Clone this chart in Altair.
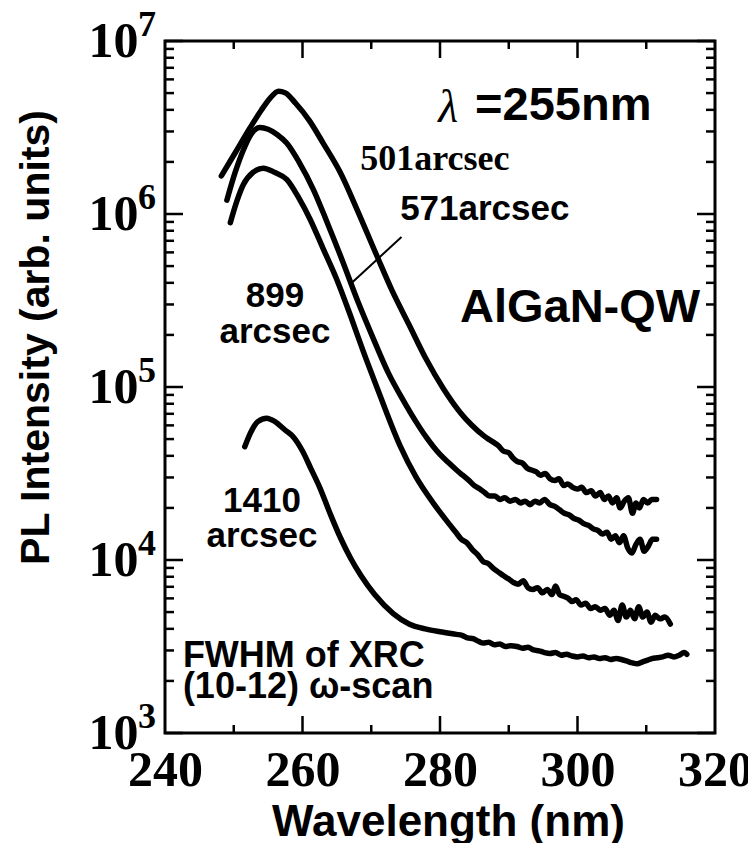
import altair as alt
import pandas as pd

# ---------------- data ----------------
# wavelength (nm) and log10(PL intensity, arb. units)
wl_501 = [248.2, 250.3, 252.4, 254.0, 255.3, 256.5, 257.5, 259.0, 261.0, 263.0, 265.5, 268.0,
          270.8, 273.0, 275.5, 278.0, 280.5, 283.0, 284.6,
          286.3, 287.0, 287.8, 288.5, 289.2, 290.0, 290.6, 291.2, 292.0, 292.7, 293.3, 294.0,
          294.6, 295.3, 296.0, 296.7, 297.3, 298.0, 298.6, 299.3, 300.0, 300.6, 301.3, 302.0,
          302.6, 303.3, 303.9, 304.5, 305.1, 305.7, 306.2, 306.8, 307.4, 308.0, 308.5, 309.0,
          309.6, 310.2, 310.8, 311.5]
lg_501 = [6.22, 6.36, 6.50, 6.60, 6.67, 6.71, 6.70, 6.64, 6.54, 6.41, 6.24, 6.02,
          5.76, 5.56, 5.36, 5.16, 4.99, 4.85, 4.78,
          4.72, 4.70, 4.68, 4.66, 4.63, 4.62, 4.59, 4.57, 4.56, 4.53, 4.52, 4.51,
          4.49, 4.50, 4.47, 4.46, 4.47, 4.43, 4.44, 4.42, 4.41, 4.42, 4.39, 4.40,
          4.37, 4.39, 4.35, 4.37, 4.33, 4.36, 4.30, 4.34, 4.36, 4.27, 4.33, 4.30,
          4.35, 4.33, 4.35, 4.35]

wl_571 = [249.0, 250.2, 251.4, 252.5, 253.8, 255.0, 256.3, 257.7, 259.5, 261.6, 263.5, 265.9,
          268.0, 270.3, 272.5, 274.7, 276.5, 278.0, 280.0, 281.3,
          282.4, 283.3, 284.2, 285.0, 285.8, 286.5, 287.2, 288.0, 288.7, 289.4, 290.2, 291.0,
          291.7, 292.4, 293.1, 293.8, 294.5, 295.2, 296.0, 296.7, 297.4, 298.1, 298.8, 299.5,
          300.2, 300.9, 301.6, 302.3, 303.0, 303.6, 304.3, 304.9, 305.5, 306.1, 306.7, 307.3,
          307.9, 308.5, 309.1, 309.7, 310.3, 310.9, 311.5]
lg_571 = [6.08, 6.24, 6.37, 6.46, 6.50, 6.49, 6.46, 6.41, 6.30, 6.14, 5.96, 5.72,
          5.50, 5.28, 5.08, 4.92, 4.80, 4.71, 4.61, 4.56,
          4.52, 4.49, 4.46, 4.43, 4.41, 4.39, 4.37, 4.37, 4.35, 4.36, 4.34, 4.35,
          4.33, 4.34, 4.32, 4.34, 4.33, 4.35, 4.32, 4.31, 4.29, 4.27, 4.26, 4.24,
          4.23, 4.21, 4.20, 4.18, 4.17, 4.15, 4.16, 4.12, 4.14, 4.10, 4.14, 4.07,
          4.04, 4.09, 4.12, 4.05, 4.08, 4.12, 4.12]

wl_899 = [249.5, 250.5, 251.4, 252.8, 254.3, 256.0, 257.7, 259.5, 261.1, 263.0, 265.0, 267.0,
          268.8, 271.0, 274.2, 276.5, 279.0,
          281.5, 282.3, 283.1, 283.9, 284.7, 285.5, 286.3, 287.0, 287.8, 288.5, 289.2, 290.0,
          290.7, 291.4, 292.1, 292.8, 293.5, 294.2, 294.9, 295.6, 296.3, 296.8, 297.4, 298.0,
          298.6, 299.2, 299.8, 300.5, 301.2, 301.9, 302.6, 303.3, 304.0, 304.7, 305.3, 305.9,
          306.5, 307.1, 307.7, 308.3, 308.9, 309.5, 310.1, 310.7, 311.3, 312.0, 312.7, 313.5]
lg_899 = [5.95, 6.08, 6.17, 6.24, 6.265, 6.24, 6.20, 6.09, 5.97, 5.80, 5.62, 5.41,
          5.21, 4.98, 4.66, 4.48, 4.33,
          4.20, 4.16, 4.12, 4.10, 4.06, 4.03, 3.99, 3.98, 3.95, 3.93, 3.91, 3.89,
          3.87, 3.86, 3.88, 3.84, 3.83, 3.84, 3.81, 3.83, 3.80, 3.85, 3.80, 3.79,
          3.78, 3.76, 3.77, 3.74, 3.75, 3.72, 3.73, 3.71, 3.72, 3.68, 3.71, 3.65,
          3.74, 3.67, 3.71, 3.66, 3.73, 3.67, 3.70, 3.64, 3.68, 3.66, 3.67, 3.63]

wl_1410 = [251.6, 252.5, 253.5, 254.8, 256.0, 257.5, 258.7, 260.0, 261.2, 262.5, 264.0, 265.5,
           267.0, 268.5, 270.5, 273.2, 275.5, 278.0, 280.0,
           282.4, 283.2, 284.0, 284.8, 285.6, 286.3, 287.1, 287.9, 288.7, 289.5, 290.3, 291.2,
           292.0, 292.8, 293.6, 294.4, 295.2, 296.0, 296.8, 297.6, 298.4, 299.2, 300.0, 300.8,
           301.6, 302.4, 303.2, 304.0, 304.8, 305.6, 306.4, 307.2, 308.0, 308.7, 309.4, 310.1,
           310.8, 311.6, 312.4, 313.2, 314.0, 314.8, 315.5, 315.9]
lg_1410 = [4.655, 4.74, 4.80, 4.82, 4.80, 4.75, 4.71, 4.63, 4.53, 4.42, 4.27, 4.13,
           4.01, 3.91, 3.80, 3.69, 3.63, 3.60, 3.585,
           3.57, 3.565, 3.55, 3.545, 3.53, 3.52, 3.525, 3.51, 3.515, 3.50, 3.505, 3.50,
           3.49, 3.495, 3.48, 3.475, 3.465, 3.46, 3.465, 3.45, 3.455, 3.445, 3.44, 3.445,
           3.435, 3.44, 3.43, 3.435, 3.425, 3.43, 3.425, 3.415, 3.405, 3.40, 3.41, 3.42,
           3.43, 3.435, 3.44, 3.45, 3.44, 3.45, 3.465, 3.455]

series_names = ["501arcsec", "571arcsec", "899arcsec", "1410arcsec"]
x_ticks = [240, 260, 280, 300, 320]
x_minor = [250, 270, 290, 310]
y_decades = [1e3, 1e4, 1e5, 1e6, 1e7]
y_exponents = ["3", "4", "5", "6", "7"]
y_minor = [m * d for d in [1e3, 1e4, 1e5, 1e6] for m in range(2, 10)]

# annotation texts: (text, wavelength, log10 intensity)
ann_lambda = [("λ", 281.2, 6.532)]
ann_big = [("=255nm", 285.1, 6.543), ("AlGaN-QW", 282.9, 5.376)]
ann_serif = [("501arcsec", 268.4, 6.254)]
ann_left = [("571arcsec", 274.2, 5.965)]
ann_note = [("FWHM of XRC", 242.6, 3.382), ("(10-12) ω-scan", 242.6, 3.202)]
ann_center = [("899", 256.0, 5.462), ("arcsec", 256.0, 5.254),
              ("1410", 254.1, 4.277), ("arcsec", 254.1, 4.075)]
leader = [(267.1, 5.60, 274.4, 5.867)]

# ---------------- build tables ----------------
frames = []
for name, w, l in zip(series_names, [wl_501, wl_571, wl_899, wl_1410],
                      [lg_501, lg_571, lg_899, lg_1410]):
    frames.append(pd.DataFrame({"wl": w, "I": [10 ** v for v in l], "s": name}))
curves = pd.concat(frames, ignore_index=True)

# plot geometry (px per unit) for inward tick lengths
PX_PER_NM = 550 / 80.0
PX_PER_DEC = 692 / 4.0
maj_nm, min_nm = 18 / PX_PER_NM, 9 / PX_PER_NM
maj_f, min_f = 10 ** (17 / PX_PER_DEC), 10 ** (8 / PX_PER_DEC)

yt = []
for v in y_decades:
    yt += [dict(wl=240, wl2=240 + maj_nm, I=v), dict(wl=320, wl2=320 - maj_nm, I=v)]
for v in y_minor:
    yt += [dict(wl=240, wl2=240 + min_nm, I=v), dict(wl=320, wl2=320 - min_nm, I=v)]
yticks = pd.DataFrame(yt)

xt = []
for v in x_ticks[1:-1]:
    xt += [dict(wl=v, I=1e3, I2=1e3 * maj_f), dict(wl=v, I=1e7, I2=1e7 / maj_f)]
for v in x_minor:
    xt += [dict(wl=v, I=1e3, I2=1e3 * min_f), dict(wl=v, I=1e7, I2=1e7 / min_f)]
xticks = pd.DataFrame(xt)

def ann_df(rows):
    return pd.DataFrame([dict(t=t, wl=w, I=10 ** l) for t, w, l in rows])

exps = pd.DataFrame({"wl": [240] * 5, "I": y_decades, "t": y_exponents})
lead = pd.DataFrame([dict(wl=a, I=10 ** b, wl2=c, I2=10 ** d) for a, b, c, d in leader])

# ---------------- scales and axes ----------------
xs = alt.Scale(domain=[240, 320], nice=False, zero=False)
ys = alt.Scale(type="log", domain=[1e3, 1e7], nice=False)

x_axis = alt.Axis(values=x_ticks, format="d", grid=False, ticks=False, tickSize=0, domain=False,
                  labelFont="Liberation Serif", labelFontWeight="bold", labelFontSize=50,
                  labelColor="black", labelBaseline="alphabetic", labelPadding=52,
                  labelOverlap=False, labelFlush=False, labelBound=False,
                  title="Wavelength (nm)", titleFont="Liberation Sans", titleFontWeight="bold",
                  titleFontSize=44, titleColor="black", titleX=283, titleY=102,
                  titleBaseline="alphabetic", titleAlign="center")
y_axis = alt.Axis(values=y_decades, labelExpr="'10'", grid=False, ticks=False, tickSize=0,
                  domain=False, labelFont="Liberation Serif", labelFontWeight="bold",
                  labelFontSize=50, labelColor="black", labelAlign="right",
                  labelBaseline="middle", labelPadding=27, labelOverlap=False,
                  labelFlush=False, labelBound=False,
                  title="PL Intensity (arb. units)", titleFont="Liberation Sans",
                  titleFontWeight="bold", titleFontSize=41, titleColor="black",
                  titleAngle=-90, titleX=-117, titleY=296, titleAlign="center",
                  titleBaseline="alphabetic")

X = alt.X("wl:Q", scale=xs, axis=x_axis)
Y = alt.Y("I:Q", scale=ys, axis=y_axis)

lines = alt.Chart(curves).mark_line(color="black", strokeWidth=5.5, strokeJoin="round",
                                    strokeCap="round", interpolate="monotone").encode(
    x=X, y=Y, detail="s:N")

ytick_layer = alt.Chart(yticks).mark_rule(color="black", strokeWidth=2.5).encode(
    x=X, x2="wl2:Q", y=Y)
xtick_layer = alt.Chart(xticks).mark_rule(color="black", strokeWidth=2.5).encode(
    x=X, y=Y, y2="I2:Q")
lead_layer = alt.Chart(lead).mark_rule(color="black", strokeWidth=2).encode(
    x=X, y=Y, x2="wl2:Q", y2="I2:Q")

exp_layer = alt.Chart(exps).mark_text(font="Liberation Serif", fontWeight="bold", fontSize=36,
                                      align="left", baseline="alphabetic", dx=-27, dy=-5,
                                      color="black").encode(x=X, y=Y, text="t:N")

def text_layer(rows, **kw):
    return alt.Chart(ann_df(rows)).mark_text(color="black", baseline="alphabetic", **kw).encode(
        x=X, y=Y, text="t:N")

t_lambda = text_layer(ann_lambda, font="Liberation Serif", fontStyle="italic", fontSize=46,
                      align="center")
t_big = text_layer(ann_big, font="Liberation Sans", fontWeight="bold", fontSize=47, align="left")
t_serif = text_layer(ann_serif, font="Liberation Serif", fontWeight="bold", fontSize=36,
                     align="left")
t_left = text_layer(ann_left, font="Liberation Sans", fontWeight="bold", fontSize=35,
                    align="left")
t_note = text_layer(ann_note, font="Liberation Sans", fontWeight="bold", fontSize=36,
                    align="left")
t_center = text_layer(ann_center, font="Liberation Sans", fontWeight="bold", fontSize=35,
                      align="center")

chart = alt.layer(lines, ytick_layer, xtick_layer, lead_layer, exp_layer,
                  t_lambda, t_big, t_serif, t_left, t_note, t_center).properties(
    width=550, height=692,
    autosize=alt.AutoSizeParams(type="none"),
    padding={"left": 157, "top": 33, "right": 33, "bottom": 110},
    background="white",
).configure_view(stroke="black", strokeWidth=3)

chart.save("out.html", embed_options={"renderer": "svg", "actions": False})
